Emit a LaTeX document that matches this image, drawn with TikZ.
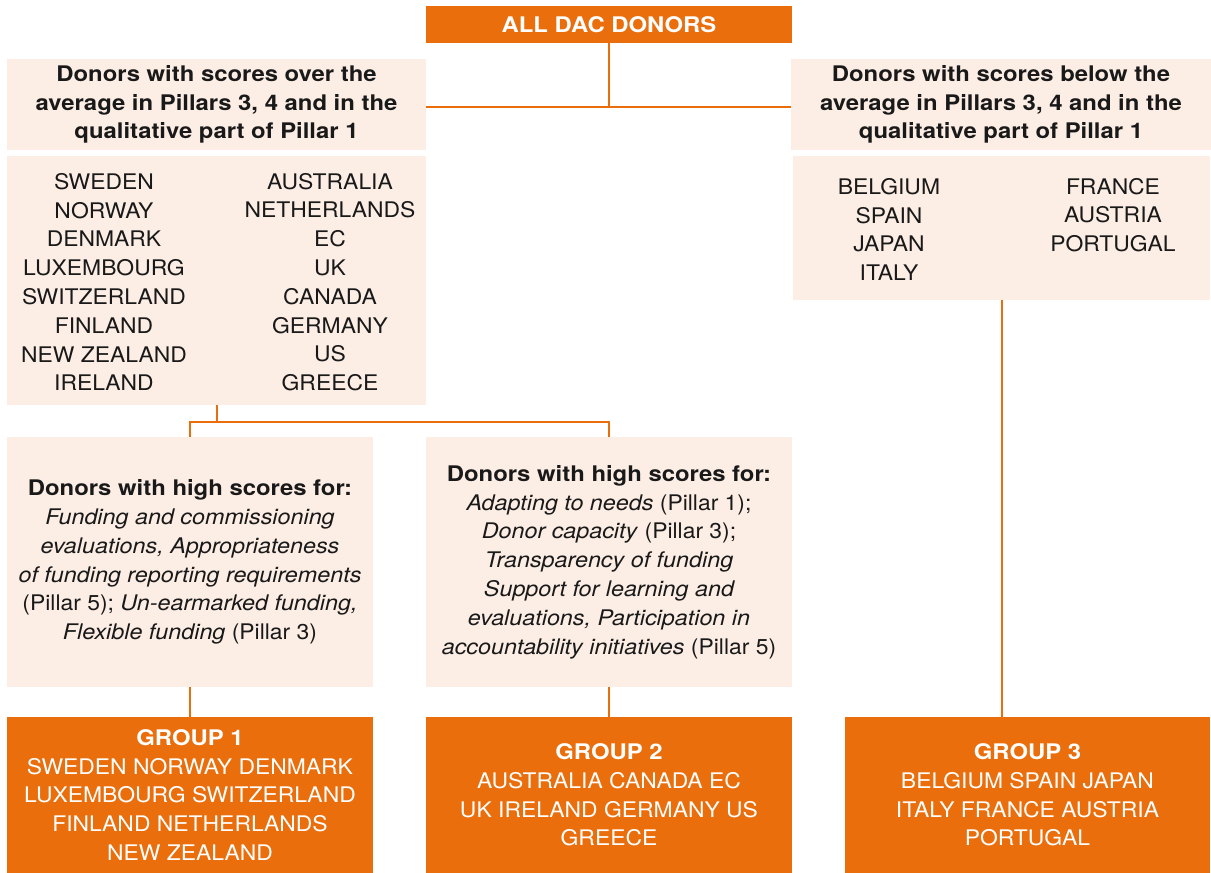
\documentclass[tikz,border=0pt]{standalone}
\usepackage{fontspec}
\setmainfont{TeX Gyre Heros}[
  UprightFeatures={FakeStretch=1.065},
  BoldFeatures={FakeStretch=1.11},
  ItalicFeatures={FakeStretch=1.085},
  BoldItalicFeatures={FakeStretch=1.11}]
\definecolor{dacorange}{RGB}{234,110,12}
\definecolor{daccream}{RGB}{252,238,229}
\definecolor{dactext}{RGB}{25,25,25}
\begin{document}
\begin{tikzpicture}[x=1pt,y=-1pt,
  every node/.style={font=\fontsize{21.5}{28.8}\selectfont, inner sep=0pt},
  obox/.style={fill=dacorange, text=white, align=center},
  cbox/.style={fill=daccream, text=dactext, align=center},
  listcol/.style={text=dactext, align=center},
  conn/.style={draw=dacorange, line width=2pt}]
\useasboundingbox (0,0) rectangle (1211,873);
% boxes
\node[obox, minimum width=366, minimum height=37] (all) at (609,24.5) {\bfseries ALL DAC DONORS};
\node[cbox, minimum width=419, minimum height=91] (lh) at (216.5,104.5)
  {\bfseries Donors with scores over the\\ \bfseries average in Pillars 3, 4 and in the\\ \bfseries qualitative part of Pillar 1};
\node[cbox, minimum width=420, minimum height=91] (rh) at (1001,104.5)
  {\bfseries Donors with scores below the\\ \bfseries average in Pillars 3, 4 and in the\\ \bfseries qualitative part of Pillar 1};
\node[cbox, minimum width=419, minimum height=249] (ll) at (216.5,280.5) {};
\node[cbox, minimum width=417, minimum height=144] (rl) at (1001.5,228) {};
\node[listcol] (llA) at (104,282) {SWEDEN\\ NORWAY\\ DENMARK\\ LUXEMBOURG\\ SWITZERLAND\\ FINLAND\\ NEW ZEALAND\\ IRELAND};
\node[listcol] (llB) at (330,282) {AUSTRALIA\\ NETHERLANDS\\ EC\\ UK\\ CANADA\\ GERMANY\\ US\\ GREECE};
\node[listcol] (rlA) at (889,229.5) {BELGIUM\\ SPAIN\\ JAPAN\\ ITALY};
\node[listcol] (rlB) at (1113,215) {FRANCE\\ AUSTRIA\\ PORTUGAL};
\node[cbox, minimum width=366, minimum height=250] (d1) at (190,562)
  {\bfseries Donors with high scores for:\\
   \itshape Funding and commissioning\\
   \itshape evaluations, Appropriateness\\
   \itshape of funding reporting requirements\\
   (Pillar 5); \textit{Un-earmarked funding,}\\
   \textit{Flexible funding} (Pillar 3)};
\node[cbox, minimum width=366, minimum height=250] (d2) at (609,562)
  {\bfseries Donors with high scores for:\\
   \textit{Adapting to needs} (Pillar 1);\\
   \textit{Donor capacity} (Pillar 3);\\
   \itshape Transparency of funding\\
   \itshape Support for learning and\\
   \itshape evaluations, Participation in\\
   \textit{accountability initiatives} (Pillar 5)};
\node[obox, minimum width=366, minimum height=156] (g1) at (190,795)
  {\bfseries GROUP 1\\ SWEDEN NORWAY DENMARK\\ LUXEMBOURG SWITZERLAND\\ FINLAND NETHERLANDS\\ NEW ZEALAND};
\node[obox, minimum width=366, minimum height=156] (g2) at (609,795)
  {\bfseries GROUP 2\\ AUSTRALIA CANADA EC\\ UK IRELAND GERMANY US\\ GREECE};
\node[obox, minimum width=365, minimum height=156] (g3) at (1027.5,795)
  {\bfseries GROUP 3\\ BELGIUM SPAIN JAPAN\\ ITALY FRANCE AUSTRIA\\ PORTUGAL};
% connectors
\coordinate (j1) at (609,107);
\coordinate (j2) at (217,422);
\draw[conn] (all.south) -- (j1);
\draw[conn] (lh.east |- j1) -- (rh.west |- j1);
\draw[conn] (ll.south -| j2) -- (j2);
\draw[conn] (d1.north) -- (d1.north |- j2) -- (d2.north |- j2) -- (d2.north);
\draw[conn] (d1.south) -- (g1.north);
\draw[conn] (d2.south) -- (g2.north);
\draw[conn] (rl.south -| 1002,0) -- (g3.north -| 1002,0);
\end{tikzpicture}
\end{document}
